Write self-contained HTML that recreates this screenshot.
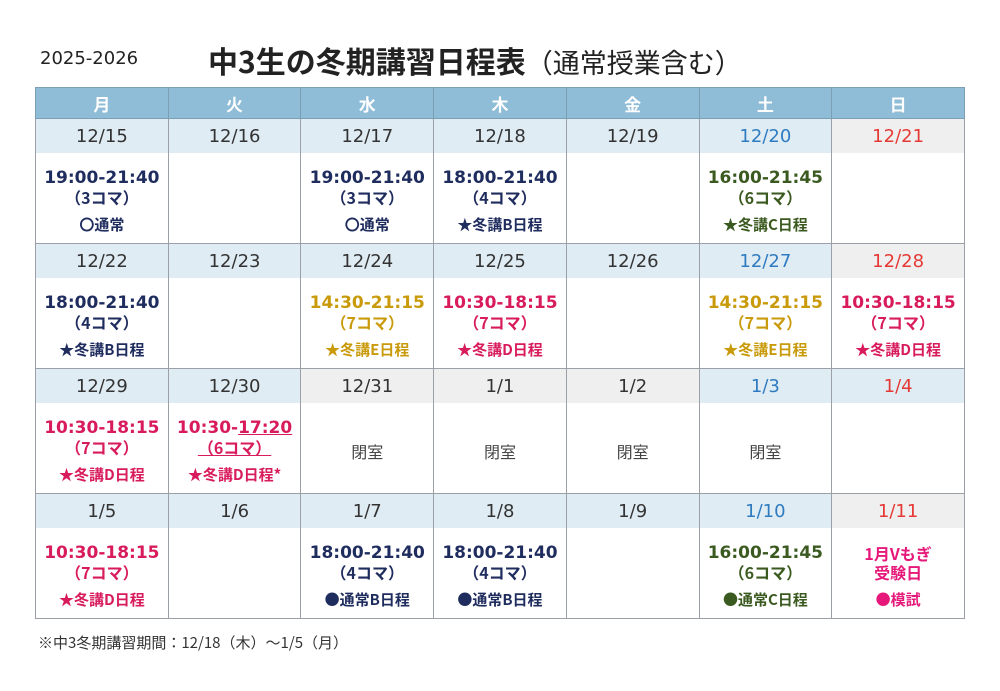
<!DOCTYPE html>
<html><head><meta charset="utf-8"><style>
body{margin:0;width:1000px;height:691px;background:#fff;font-family:"DejaVu Sans","Noto Sans CJK JP",sans-serif;position:relative;overflow:hidden}
.t{position:absolute;white-space:nowrap}
table{position:absolute;left:35px;top:87px;border-collapse:collapse;table-layout:fixed;width:930px}
td{border:1.5px solid #9aa0a6;text-align:center;padding:0;vertical-align:middle}
tr.h td{background:#8fbcd6;color:#fff;height:30px;font-size:17px;font-weight:bold;border-color:#7d9fb5;font-family:"Noto Sans CJK JP",sans-serif}
tr.d td{background:#dfecf4;height:34px;font-size:18px;color:#333;border-bottom:none}
tr.d td.g{background:#efefef}
tr.d td.b{color:#2f7bc0}
tr.d td.s{color:#e53935}
tr.c td{height:84px;padding-top:6px;border-top:none;font-family:"Noto Sans CJK JP",sans-serif}
.tm{font-size:17px;font-weight:bold;line-height:20px;font-family:"DejaVu Sans","Noto Sans CJK JP",sans-serif}
.km{font-size:16px;font-weight:bold;line-height:19px}
.lb{font-size:15px;font-weight:bold;margin-top:9px;line-height:18px}
.n{color:#1f2c5e}.gr{color:#3b5a20}.y{color:#c99a0a}.r{color:#d81b5c}.k{color:#444;font-size:16px}
.u{text-decoration:underline}
</style></head><body>
<div class="t" style="left:40px;top:48px;font-size:18px;color:#222">2025-2026</div>
<div class="t" style="left:208px;top:38px;font-size:30px;font-weight:bold;color:#222;font-family:'Noto Sans CJK JP',sans-serif">中3生の冬期講習日程表<span style="font-weight:normal;font-size:27px">（通常授業含む）</span></div>
<table>
<tr class="h"><td>月</td><td>火</td><td>水</td><td>木</td><td>金</td><td>土</td><td>日</td></tr>
<tr class="d"><td>12/15</td><td>12/16</td><td>12/17</td><td>12/18</td><td>12/19</td><td class="b">12/20</td><td class="g s">12/21</td></tr>
<tr class="c">
<td class="n"><div class="tm">19:00-21:40</div><div class="km">（3コマ）</div><div class="lb">〇通常</div></td><td></td>
<td class="n"><div class="tm">19:00-21:40</div><div class="km">（3コマ）</div><div class="lb">〇通常</div></td>
<td class="n"><div class="tm">18:00-21:40</div><div class="km">（4コマ）</div><div class="lb">★冬講B日程</div></td><td></td>
<td class="gr"><div class="tm">16:00-21:45</div><div class="km">（6コマ）</div><div class="lb">★冬講C日程</div></td><td></td></tr>
<tr class="d"><td>12/22</td><td>12/23</td><td>12/24</td><td>12/25</td><td>12/26</td><td class="b">12/27</td><td class="g s">12/28</td></tr>
<tr class="c">
<td class="n"><div class="tm">18:00-21:40</div><div class="km">（4コマ）</div><div class="lb">★冬講B日程</div></td><td></td>
<td class="y"><div class="tm">14:30-21:15</div><div class="km">（7コマ）</div><div class="lb">★冬講E日程</div></td>
<td class="r"><div class="tm">10:30-18:15</div><div class="km">（7コマ）</div><div class="lb">★冬講D日程</div></td><td></td>
<td class="y"><div class="tm">14:30-21:15</div><div class="km">（7コマ）</div><div class="lb">★冬講E日程</div></td>
<td class="r"><div class="tm">10:30-18:15</div><div class="km">（7コマ）</div><div class="lb">★冬講D日程</div></td></tr>
<tr class="d"><td>12/29</td><td>12/30</td><td class="g">12/31</td><td class="g">1/1</td><td class="g">1/2</td><td class="b">1/3</td><td class="s">1/4</td></tr>
<tr class="c">
<td class="r"><div class="tm">10:30-18:15</div><div class="km">（7コマ）</div><div class="lb">★冬講D日程</div></td>
<td class="r"><div class="tm">10:30-<span class="u">17:20</span></div><div class="km"><span class="u">（6コマ）</span></div><div class="lb">★冬講D日程*</div></td>
<td class="k">閉室</td><td class="k">閉室</td><td class="k">閉室</td><td class="k">閉室</td><td></td></tr>
<tr class="d"><td>1/5</td><td>1/6</td><td>1/7</td><td>1/8</td><td>1/9</td><td class="b">1/10</td><td class="g s">1/11</td></tr>
<tr class="c">
<td class="r"><div class="tm">10:30-18:15</div><div class="km">（7コマ）</div><div class="lb">★冬講D日程</div></td><td></td>
<td class="n"><div class="tm">18:00-21:40</div><div class="km">（4コマ）</div><div class="lb">●通常B日程</div></td>
<td class="n"><div class="tm">18:00-21:40</div><div class="km">（4コマ）</div><div class="lb">●通常B日程</div></td><td></td>
<td class="gr"><div class="tm">16:00-21:45</div><div class="km">（6コマ）</div><div class="lb">●通常C日程</div></td>
<td style="color:#e6197a"><div class="km" style="font-size:16px">1月Vもぎ</div><div class="km" style="font-size:16px">受験日</div><div class="lb">●模試</div></td></tr>
</table>
<div class="t" style="left:38px;top:632px;font-size:15px;color:#333;font-family:'Noto Sans CJK JP',sans-serif">※中3冬期講習期間：12/18（木）～1/5（月）</div>
</body></html>
